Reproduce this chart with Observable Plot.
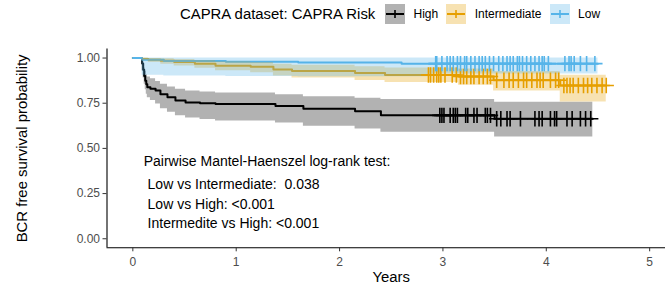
<!DOCTYPE html>
<html>
<head>
<meta charset="utf-8">
<script src="https://cdn.jsdelivr.net/npm/d3@7"></script>
<script src="https://cdn.jsdelivr.net/npm/@observablehq/plot@0.6"></script>
<style>
html, body { margin: 0; padding: 0; background: #fff; overflow: hidden; }
#wrap { width: 665px; height: 284px; position: relative; overflow: hidden; font-family: "Liberation Sans", Arial, sans-serif; }
#legend { position: relative; height: 28px; display: flex; align-items: center; padding-left: 180px; box-sizing: border-box; color: #000; }
#legend .title { font-size: 14.9px; white-space: pre; }
#legend .key { width: 20px; height: 20px; display: block; margin-left: 8.1px; }
#legend .key.first { margin-left: 9.7px; }
#legend .lab { font-size: 12px; margin-left: 8.5px; white-space: pre; }
#chart svg { display: block; overflow: hidden; }
</style>
</head>
<body>
<div id="wrap">
  <div id="legend"></div>
  <div id="chart"></div>
</div>
<script>
// ---- data ----
const groups = ["High", "Intermediate", "Low"];
const colors = ["#000000", "#E69F00", "#56B4E9"];
const legendTitle = "CAPRA dataset: CAPRA Risk";
const xTitle = "Years";
const yTitle = "BCR free survival probability";
const xTicks = [0, 1, 2, 3, 4, 5];
const yTicks = [0, 0.25, 0.5, 0.75, 1];

const highTime  = [0, 0.09, 0.10, 0.11, 0.12, 0.13, 0.14, 0.17, 0.22, 0.267, 0.335, 0.412, 0.51, 0.65, 0.8, 1.38, 1.65, 2.15, 2.4, 3.5, 4.45];
const highSurv  = [1, 0.97, 0.935, 0.90, 0.875, 0.855, 0.838, 0.83, 0.82, 0.80, 0.783, 0.765, 0.754, 0.75, 0.745, 0.735, 0.72, 0.706, 0.683, 0.664, 0.664];
const highLower = [1, 0.93, 0.89, 0.855, 0.825, 0.80, 0.78, 0.765, 0.745, 0.72, 0.70, 0.68, 0.668, 0.66, 0.652, 0.64, 0.623, 0.608, 0.59, 0.563, 0.563];
const highUpper = [1, 0.995, 0.97, 0.945, 0.925, 0.908, 0.895, 0.885, 0.87, 0.855, 0.84, 0.827, 0.818, 0.812, 0.806, 0.797, 0.786, 0.778, 0.77, 0.755, 0.755];
const highCensor = [2.97, 2.99, 3.01, 3.07, 3.10, 3.12, 3.14, 3.22, 3.24, 3.30, 3.33, 3.41, 3.43, 3.46, 3.52, 3.56, 3.62, 3.65, 3.75, 3.89, 3.93, 3.96, 4.04, 4.08, 4.10, 4.20, 4.25, 4.33, 4.38, 4.43];

const intTime  = [0, 0.09, 0.15, 0.27, 0.4, 0.6, 0.8, 1.14, 1.36, 1.54, 2.15, 2.44, 3.15, 3.49, 4.135, 4.58];
const intSurv  = [1, 0.995, 0.99, 0.985, 0.978, 0.968, 0.958, 0.952, 0.937, 0.928, 0.917, 0.906, 0.898, 0.877, 0.848, 0.848];
const intLower = [1, 0.985, 0.975, 0.966, 0.956, 0.943, 0.93, 0.918, 0.9, 0.89, 0.876, 0.864, 0.85, 0.818, 0.757, 0.757];
const intUpper = [1, 1, 0.998, 0.996, 0.992, 0.986, 0.979, 0.975, 0.966, 0.96, 0.952, 0.945, 0.94, 0.925, 0.905, 0.905];
const intCensor = [2.86, 2.88, 2.91, 2.94, 2.96, 2.98, 3.02, 3.09, 3.13, 3.17, 3.20, 3.23, 3.27, 3.30, 3.35, 3.39, 3.43, 3.46, 3.52, 3.59, 3.64, 3.68, 3.73, 3.78, 3.81, 3.86, 3.91, 3.94, 3.97, 4.04, 4.09, 4.12, 4.17, 4.20, 4.23, 4.26, 4.31, 4.36, 4.40, 4.44, 4.49, 4.54, 4.58];

const lowTime  = [0, 0.09, 0.3, 0.9, 1.6, 2.6, 2.9, 4.5];
const lowSurv  = [1, 0.99, 0.984, 0.979, 0.975, 0.969, 0.969, 0.969];
const lowLower = [1, 0.905, 0.9, 0.898, 0.896, 0.896, 0.912, 0.912];
const lowUpper = [1, 1, 1, 1, 1, 1, 1, 1];
const lowCensor = [2.93, 2.94, 2.99, 3.04, 3.07, 3.10, 3.14, 3.17, 3.21, 3.23, 3.27, 3.31, 3.35, 3.38, 3.41, 3.45, 3.49, 3.54, 3.58, 3.62, 3.65, 3.68, 3.72, 3.74, 3.77, 3.81, 3.85, 3.89, 3.93, 3.96, 3.98, 4.02, 4.18, 4.22, 4.24, 4.27, 4.33, 4.39, 4.47];

const annotationLines = [
  "Pairwise Mantel-Haenszel log-rank test:",
  " Low vs Intermediate:  0.038",
  " Low vs High: <0.001",
  " Intermedite vs High: <0.001"
];

// ---- build tables ----
const rows = [];
function addRows(group, time, surv, lower, upper) {
  time.forEach((t, i) => rows.push({group, time: t, surv: surv[i], lower: lower[i], upper: upper[i]}));
}
addRows("High", highTime, highSurv, highLower, highUpper);
addRows("Intermediate", intTime, intSurv, intLower, intUpper);
addRows("Low", lowTime, lowSurv, lowLower, lowUpper);

const censorRows = [];
function addCensor(group, times, time, surv) {
  times.forEach(t => {
    let i = 0;
    while (i + 1 < time.length && time[i + 1] <= t) i++;
    censorRows.push({group, time: t, surv: surv[i]});
  });
}
addCensor("High", highCensor, highTime, highSurv);
addCensor("Intermediate", intCensor, intTime, intSurv);
addCensor("Low", lowCensor, lowTime, lowSurv);

// annotation placement (data units)
const annX = 0.105;
const annY = [0.4275, 0.3015, 0.1908, 0.0857];
const annRows = annotationLines.map((s, i) => ({text: s, x: annX, y: annY[i]}));

// ---- legend ----
const legend = document.getElementById("legend");
const t = document.createElement("span");
t.className = "title"; t.textContent = legendTitle;
legend.appendChild(t);
groups.forEach((g, i) => {
  const ns = "http://www.w3.org/2000/svg";
  const svg = document.createElementNS(ns, "svg");
  svg.setAttribute("class", "key" + (i === 0 ? " first" : ""));
  svg.setAttribute("width", 20); svg.setAttribute("height", 20);
  const r = document.createElementNS(ns, "rect");
  r.setAttribute("width", 20); r.setAttribute("height", 20);
  r.setAttribute("fill", colors[i]); r.setAttribute("fill-opacity", 0.3);
  svg.appendChild(r);
  const l1 = document.createElementNS(ns, "line");
  l1.setAttribute("x1", 1); l1.setAttribute("x2", 19); l1.setAttribute("y1", 10); l1.setAttribute("y2", 10);
  l1.setAttribute("stroke", colors[i]); l1.setAttribute("stroke-width", 2);
  svg.appendChild(l1);
  const l2 = document.createElementNS(ns, "line");
  l2.setAttribute("x1", 10); l2.setAttribute("x2", 10); l2.setAttribute("y1", 6); l2.setAttribute("y2", 14);
  l2.setAttribute("stroke", colors[i]); l2.setAttribute("stroke-width", 1.6);
  svg.appendChild(l2);
  legend.appendChild(svg);
  const lab = document.createElement("span");
  lab.className = "lab"; lab.textContent = g;
  legend.appendChild(lab);
});

// ---- plot ----
const xDomain = [-0.25, 5.25];
const yDomain = [-0.05, 1.05];

const chart = Plot.plot({
  width: 665,
  height: 256,
  marginLeft: 106.5,
  marginRight: -10,
  marginTop: 20.5,
  marginBottom: 36.7,
  style: {fontFamily: '"Liberation Sans", Arial, sans-serif', background: "white", overflow: "hidden"},
  x: {domain: xDomain},
  y: {domain: yDomain},
  color: {domain: groups, range: colors},
  marks: [
    Plot.lineY(rows, {x: "time", y: "surv", z: "group", stroke: "group", curve: "step-after", strokeWidth: 2}),
    Plot.areaY(rows, {x: "time", y1: "lower", y2: "upper", z: "group", fill: "group", fillOpacity: 0.3, curve: "step-after"}),
    Plot.dot(censorRows, {x: "time", y: "surv", stroke: "group", symbol: "plus", r: 5, strokeWidth: 1.6}),
    Plot.ruleX([xDomain[0]], {stroke: "black", strokeWidth: 1.1}),
    Plot.ruleY([yDomain[0]], {stroke: "black", strokeWidth: 1.1}),
    Plot.axisX({ticks: xTicks, tickFormat: d3.format("d"), tickSize: 4, tickPadding: 6, fontSize: 12, fill: "#4d4d4d", stroke: "#333", label: null}),
    Plot.axisY({ticks: yTicks, tickFormat: d3.format(".2f"), tickSize: 4, tickPadding: 3, fontSize: 12, fill: "#4d4d4d", stroke: "#333", label: null}),
    Plot.text([yTitle], {text: d => d, frameAnchor: "left", textAnchor: "middle", lineAnchor: "middle", rotate: -90, dx: -85, fontSize: 14.9, fill: "black"}),
    Plot.text([xTitle], {text: d => d, frameAnchor: "bottom", textAnchor: "middle", lineAnchor: "middle", dy: 29.7, fontSize: 14.9, fill: "black"}),
    Plot.text(annRows, {x: "x", y: "y", text: "text", textAnchor: "start", fontSize: 14, fill: "black"})
  ]
});
document.getElementById("chart").appendChild(chart);
</script>
</body>
</html>
